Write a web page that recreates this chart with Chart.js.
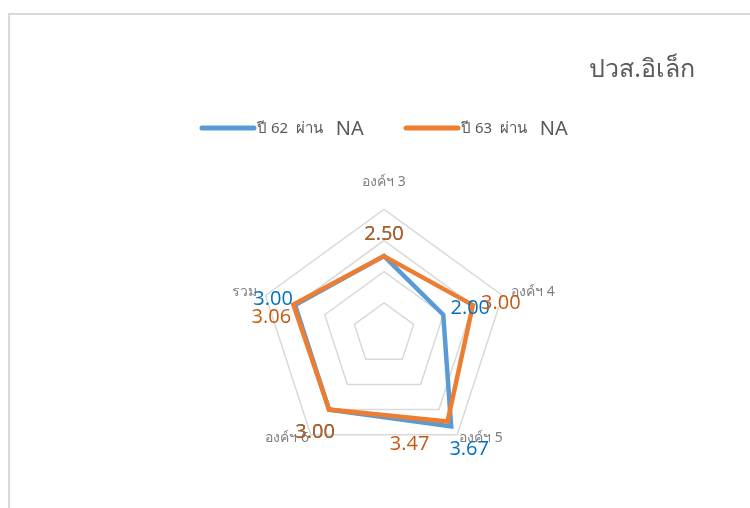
<!DOCTYPE html>
<html>
<head>
<meta charset="utf-8">
<script src="https://cdn.jsdelivr.net/npm/chart.js@4"></script>
<style>
  html, body { margin: 0; padding: 0; background: #fff; }
  #frame { position: absolute; left: 8px; top: 13px; width: 760px; height: 510px;
           border-left: 2px solid #d9d9d9; border-top: 2px solid #d9d9d9; }
  #c { position: absolute; left: 0; top: 0; }
</style>
</head>
<body>
<div id="frame"></div>
<canvas id="c" width="750" height="508"></canvas>
<script>
// values
const categories = ['องค์ฯ 3', 'องค์ฯ 4', 'องค์ฯ 5', 'องค์ฯ 6', 'รวม'];
const year62 = [2.50, 2.00, 3.67, 3.00, 3.00];
const year63 = [2.50, 3.00, 3.47, 3.00, 3.06];
const seriesNames = ['ปี 62  ผ่าน', 'ปี 63  ผ่าน'];
const seriesSuffix = 'NA';
const scaleTicks = [0, 1, 2, 3, 4];
const chartTitle = 'ปวส.อิเล็ก';

const blue = '#5b9bd5';
const orange = '#ed7d31';
const labelColors = ['#0070c0', '#c55a11'];
const font = '"Noto Sans", "Open Sans", sans-serif';

// where Excel put each value label, relative to its point
const labelShift = [
  [[0, -22], [27, -6], [18, 23], [-14, 23], [-22, -6]],
  [[0, -22], [28, -2], [-38, 23], [-14, 23], [-22, 13]]
];

const valueLabels = {
  id: 'valueLabels',
  afterDatasetsDraw(chart) {
    const ctx = chart.ctx;
    ctx.save();
    ctx.font = '20px "Open Sans", sans-serif';
    ctx.textAlign = 'center';
    ctx.textBaseline = 'middle';
    chart.data.datasets.forEach((ds, i) => {
      const meta = chart.getDatasetMeta(i);
      ctx.fillStyle = labelColors[i];
      meta.data.forEach((pt, j) => {
        const s = labelShift[i][j];
        ctx.fillText(ds.data[j].toFixed(2), pt.x + s[0], pt.y + s[1]);
      });
    });
    ctx.restore();
  }
};

const titleAndLegend = {
  id: 'titleAndLegend',
  afterDraw(chart) {
    const ctx = chart.ctx;
    ctx.save();
    ctx.fillStyle = '#595959';
    ctx.textBaseline = 'middle';
    ctx.textAlign = 'right';
    ctx.font = '25px ' + font;
    ctx.fillText(chartTitle, 695, 70);

    const starts = [200, 404];
    const cols = [blue, orange];
    ctx.textAlign = 'left';
    seriesNames.forEach((name, i) => {
      const x = starts[i];
      ctx.strokeStyle = cols[i];
      ctx.lineWidth = 5;
      ctx.lineCap = 'round';
      ctx.beginPath();
      ctx.moveTo(x + 2, 128);
      ctx.lineTo(x + 54, 128);
      ctx.stroke();
      ctx.fillStyle = '#595959';
      ctx.font = '15px ' + font;
      ctx.fillText(name, x + 57, 129);
      const w = ctx.measureText(name).width;
      ctx.font = '20px ' + font;
      ctx.fillText(seriesSuffix, x + 57 + w + 13, 129);
    });
    ctx.restore();
  }
};

new Chart(document.getElementById('c'), {
  type: 'radar',
  data: {
    labels: categories,
    datasets: [
      { label: seriesNames[0] + ' ' + seriesSuffix, data: year62, borderColor: blue,
        backgroundColor: blue, order: 2 },
      { label: seriesNames[1] + ' ' + seriesSuffix, data: year63, borderColor: orange,
        backgroundColor: orange, order: 1 }
    ]
  },
  options: {
    responsive: false,
    animation: false,
    layout: { padding: { left: 84, right: 66, top: 167, bottom: 34 } },
    elements: {
      line: { borderWidth: 4.5, fill: false, tension: 0 },
      point: { radius: 0, hoverRadius: 0 }
    },
    plugins: {
      legend: { display: false },
      title: { display: false },
      tooltip: { enabled: false }
    },
    scales: {
      r: {
        min: scaleTicks[0],
        max: scaleTicks[scaleTicks.length - 1],
        ticks: { display: false, stepSize: 1 },
        afterBuildTicks(scale) { scale.ticks = scaleTicks.map(v => ({ value: v })); },
        grid: { color: '#d9d9d9', lineWidth: 1.5 },
        angleLines: { display: false },
        pointLabels: {
          color: '#7f7f7f',
          font: { size: 14, family: font, lineHeight: 0.1 },
          padding: ctx => [27, 9, 3, 3, 9][ctx.index]
        }
      }
    }
  },
  plugins: [valueLabels, titleAndLegend]
});
</script>
</body>
</html>
